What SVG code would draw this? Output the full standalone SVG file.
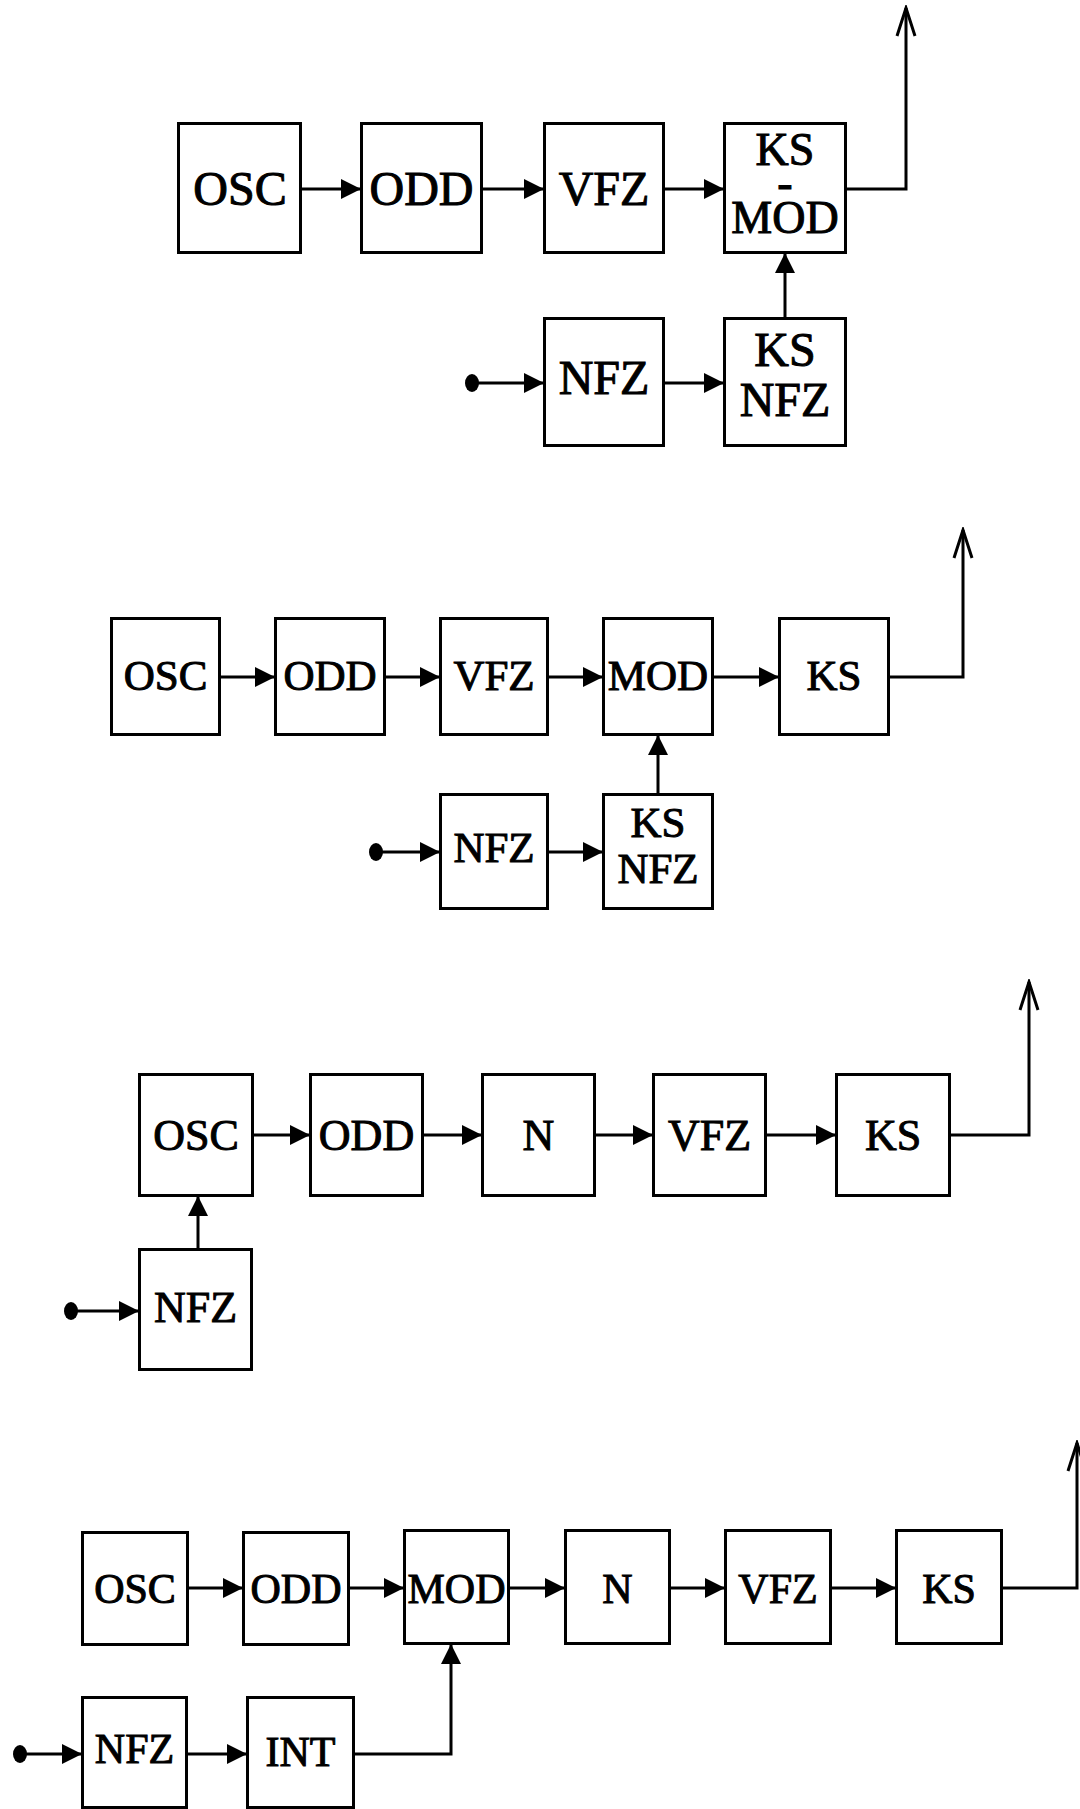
<svg xmlns="http://www.w3.org/2000/svg" width="1080" height="1809" viewBox="0 0 1080 1809">
<style>
rect.b{fill:#fff;stroke:#000;stroke-width:3}
text{font-family:"Liberation Serif","Times New Roman",serif;fill:#000;stroke:#000;stroke-width:1;text-anchor:middle}
.f48{font-size:48px}.f46{font-size:46px}.f43{font-size:43px}.f44{font-size:44px}.f42{font-size:42px}
.c{fill:none;stroke:#000;stroke-width:3}
.a{marker-end:url(#ah)}
.o{marker-end:url(#oa)}
</style>
<defs>
<marker id="ah" markerUnits="userSpaceOnUse" markerWidth="20" markerHeight="20" refX="19" refY="10" orient="auto">
<path d="M0,0 L20,10 L0,20 Z" fill="#000"/>
</marker>
<marker id="oa" markerUnits="userSpaceOnUse" markerWidth="32" markerHeight="24" refX="29" refY="12" orient="auto">
<path d="M1,3 L29,12 L1,21" fill="none" stroke="#000" stroke-width="3"/>
</marker>
</defs>
<rect width="1080" height="1809" fill="#fff"/>

<g id="connectors">
<!-- diagram 1 -->
<path class="c a" d="M302,189 H360"/>
<path class="c a" d="M483,189 H543"/>
<path class="c a" d="M665,189 H723"/>
<path class="c a" d="M472,383 H543"/>
<path class="c a" d="M665,383 H723"/>
<path class="c a" d="M785,317 V254"/>
<path class="c o" d="M847,189 H906 V8"/>
<ellipse cx="472" cy="383" rx="7" ry="9" fill="#000"/>
<!-- diagram 2 -->
<path class="c a" d="M221,677 H274"/>
<path class="c a" d="M386,677 H439"/>
<path class="c a" d="M549,677 H602"/>
<path class="c a" d="M714,677 H778"/>
<path class="c o" d="M890,677 H963 V530"/>
<path class="c a" d="M376,852 H439"/>
<path class="c a" d="M549,852 H602"/>
<path class="c a" d="M658,793 V736"/>
<ellipse cx="376" cy="852" rx="7" ry="9" fill="#000"/>
<!-- diagram 3 -->
<path class="c a" d="M254,1135 H309"/>
<path class="c a" d="M424,1135 H481"/>
<path class="c a" d="M596,1135 H652"/>
<path class="c a" d="M767,1135 H835"/>
<path class="c o" d="M951,1135 H1029 V982"/>
<path class="c a" d="M71,1311 H138"/>
<path class="c a" d="M198,1248 V1197"/>
<ellipse cx="71" cy="1311" rx="7" ry="9" fill="#000"/>
<!-- diagram 4 -->
<path class="c a" d="M189,1588 H242"/>
<path class="c a" d="M350,1588 H403"/>
<path class="c a" d="M510,1588 H564"/>
<path class="c a" d="M671,1588 H724"/>
<path class="c a" d="M832,1588 H895"/>
<path class="c o" d="M1003,1588 H1077 V1443"/>
<path class="c a" d="M20,1754 H81"/>
<path class="c a" d="M188,1754 H246"/>
<path class="c a" d="M355,1754 H451 V1645"/>
<ellipse cx="20" cy="1754" rx="7" ry="9" fill="#000"/>
</g>

<!-- diagram 1 -->
<g id="d1-osc"><rect class="b" x="178.5" y="123.5" width="122" height="129"/><text class="f48" x="240" y="205">OSC</text></g>
<g id="d1-odd"><rect class="b" x="361.5" y="123.5" width="120" height="129"/><text class="f48" x="421.5" y="205">ODD</text></g>
<g id="d1-vfz"><rect class="b" x="544.5" y="123.5" width="119" height="129"/><text class="f48" x="604" y="205">VFZ</text></g>
<g id="d1-ksmod"><rect class="b" x="724.5" y="123.5" width="121" height="129"/><text class="f46" x="785" y="165">KS<tspan x="785" y="198">-</tspan><tspan x="785" y="233">MOD</tspan></text></g>
<g id="d1-nfz"><rect class="b" x="544.5" y="318.5" width="119" height="127"/><text class="f48" x="604" y="394">NFZ</text></g>
<g id="d1-ksnfz"><rect class="b" x="724.5" y="318.5" width="121" height="127"/><text class="f48" x="785" y="366">KS<tspan x="785" y="416">NFZ</tspan></text></g>

<!-- diagram 2 -->
<g id="d2-osc"><rect class="b" x="111.5" y="618.5" width="108" height="116"/><text class="f43" x="165.5" y="690">OSC</text></g>
<g id="d2-odd"><rect class="b" x="275.5" y="618.5" width="109" height="116"/><text class="f43" x="330" y="690">ODD</text></g>
<g id="d2-vfz"><rect class="b" x="440.5" y="618.5" width="107" height="116"/><text class="f43" x="494" y="690">VFZ</text></g>
<g id="d2-mod"><rect class="b" x="603.5" y="618.5" width="109" height="116"/><text class="f43" x="658" y="690">MOD</text></g>
<g id="d2-ks"><rect class="b" x="779.5" y="618.5" width="109" height="116"/><text class="f43" x="834" y="690">KS</text></g>
<g id="d2-nfz"><rect class="b" x="440.5" y="794.5" width="107" height="114"/><text class="f43" x="494" y="862">NFZ</text></g>
<g id="d2-ksnfz"><rect class="b" x="603.5" y="794.5" width="109" height="114"/><text class="f43" x="658" y="837">KS<tspan x="658" y="883">NFZ</tspan></text></g>

<!-- diagram 3 -->
<g id="d3-osc"><rect class="b" x="139.5" y="1074.5" width="113" height="121"/><text class="f44" x="196" y="1150">OSC</text></g>
<g id="d3-odd"><rect class="b" x="310.5" y="1074.5" width="112" height="121"/><text class="f44" x="366.5" y="1150">ODD</text></g>
<g id="d3-n"><rect class="b" x="482.5" y="1074.5" width="112" height="121"/><text class="f44" x="538.5" y="1150">N</text></g>
<g id="d3-vfz"><rect class="b" x="653.5" y="1074.5" width="112" height="121"/><text class="f44" x="709.5" y="1150">VFZ</text></g>
<g id="d3-ks"><rect class="b" x="836.5" y="1074.5" width="113" height="121"/><text class="f44" x="893" y="1150">KS</text></g>
<g id="d3-nfz"><rect class="b" x="139.5" y="1249.5" width="112" height="120"/><text class="f44" x="195.5" y="1322">NFZ</text></g>

<!-- diagram 4 -->
<g id="d4-osc"><rect class="b" x="82.5" y="1532.5" width="105" height="112"/><text class="f42" x="135" y="1603">OSC</text></g>
<g id="d4-odd"><rect class="b" x="243.5" y="1532.5" width="105" height="112"/><text class="f42" x="296" y="1603">ODD</text></g>
<g id="d4-mod"><rect class="b" x="404.5" y="1530.5" width="104" height="113"/><text class="f42" x="456.5" y="1603">MOD</text></g>
<g id="d4-n"><rect class="b" x="565.5" y="1530.5" width="104" height="113"/><text class="f42" x="617.5" y="1603">N</text></g>
<g id="d4-vfz"><rect class="b" x="725.5" y="1530.5" width="105" height="113"/><text class="f42" x="778" y="1603">VFZ</text></g>
<g id="d4-ks"><rect class="b" x="896.5" y="1530.5" width="105" height="113"/><text class="f42" x="949" y="1603">KS</text></g>
<g id="d4-nfz"><rect class="b" x="82.5" y="1697.5" width="104" height="110"/><text class="f42" x="134.5" y="1763">NFZ</text></g>
<g id="d4-int"><rect class="b" x="247.5" y="1697.5" width="106" height="110"/><text class="f42" x="300.5" y="1766">INT</text></g>
</svg>
